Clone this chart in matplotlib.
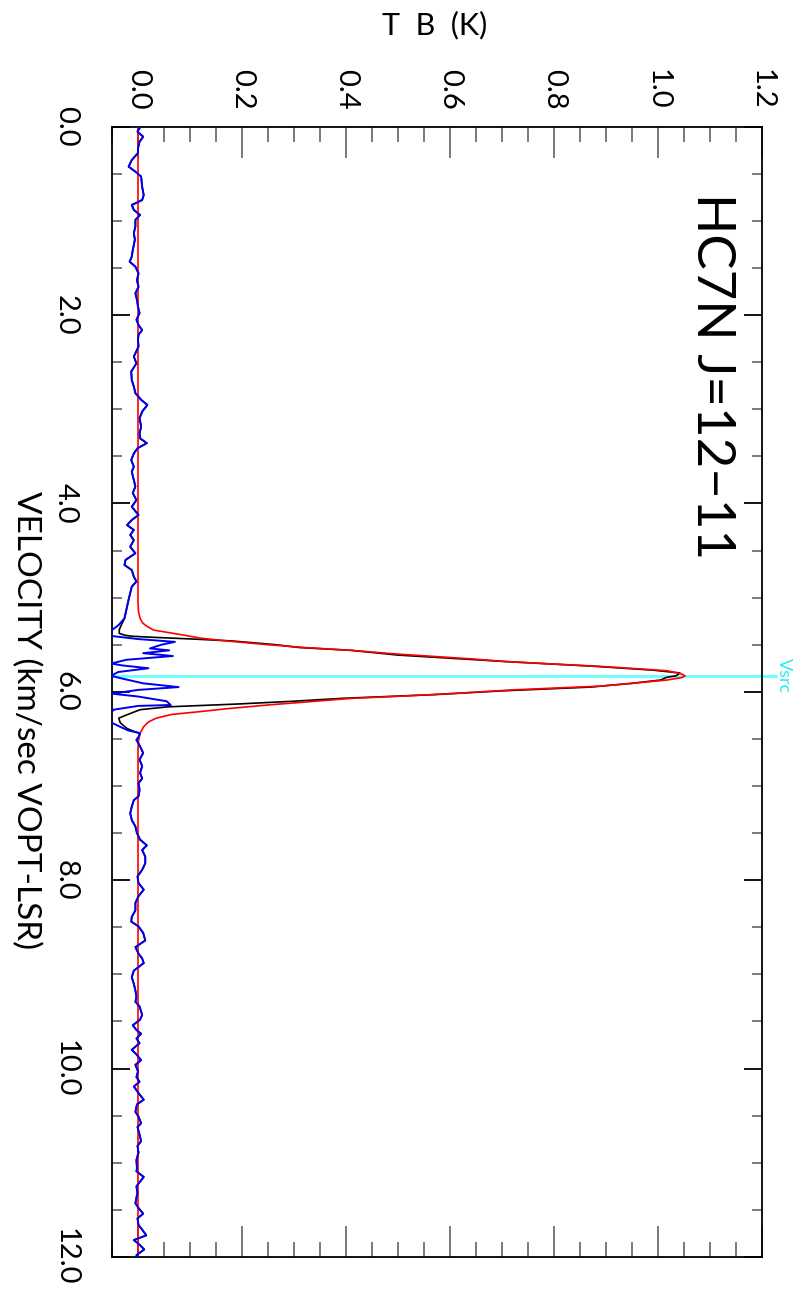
import matplotlib
matplotlib.use("Agg")
import matplotlib.pyplot as plt
from matplotlib.ticker import MultipleLocator, FormatStrFormatter

plt.rcParams['font.family'] = ['Lato', 'DejaVu Sans']
plt.rcParams['text.color'] = 'black'

v_src = 5.83

# baseline channels (km/s, K) left of the line
base_lo_v = [0.0, 0.018, 0.054, 0.107, 0.16, 0.23, 0.28, 0.355, 0.425, 0.478, 0.53, 0.64, 0.726,
             0.78, 0.832, 0.885, 0.938, 0.99, 1.06, 1.13, 1.20, 1.31, 1.38, 1.434, 1.487, 1.558,
             1.63, 1.70, 1.77, 1.84, 1.911, 1.98, 2.05, 2.106, 2.16, 2.21, 2.265, 2.335, 2.442,
             2.513, 2.60, 2.69, 2.76, 2.83, 2.90, 2.955, 3.026, 3.097, 3.185, 3.256, 3.31, 3.36,
             3.415, 3.47, 3.54, 3.61, 3.663, 3.75, 3.82, 3.89, 3.964, 4.035, 4.123, 4.176, 4.23,
             4.282, 4.335, 4.39, 4.46, 4.53, 4.60, 4.654, 4.707, 4.778, 4.83, 4.884, 4.95, 5.02,
             5.096, 5.167, 5.22]
base_lo_t = [0.001, 0.003, -0.001, 0.010, 0.003, 0.0, 0.0, -0.012, -0.018, -0.005, 0.006, 0.008,
             0.011, 0.008, -0.012, -0.008, 0.004, -0.005, -0.005, -0.008, -0.006, -0.010, -0.012,
             -0.016, -0.005, 0.001, -0.002, 0.001, -0.005, -0.002, 0.0, 0.003, -0.003, 0.001,
             0.008, 0.001, 0.0, 0.001, -0.008, -0.003, -0.013, -0.012, -0.008, -0.005, 0.006,
             0.018, 0.008, 0.003, 0.006, 0.003, 0.004, 0.017, -0.001, -0.008, -0.013, -0.008,
             -0.012, -0.008, -0.005, -0.010, -0.003, -0.012, 0.001, -0.012, -0.021, -0.008,
             -0.015, -0.008, -0.015, -0.005, -0.024, -0.026, -0.012, -0.008, -0.003, -0.012,
             -0.015, -0.018, -0.021, -0.024, -0.026]

# baseline channels right of the line
base_hi_v = [6.44, 6.48, 6.51, 6.58, 6.65, 6.72, 6.79, 6.86, 6.92, 6.97, 7.04, 7.11, 7.15, 7.22,
             7.29, 7.36, 7.43, 7.50, 7.57, 7.63, 7.68, 7.75, 7.82, 7.89, 7.96, 8.03, 8.10, 8.17,
             8.24, 8.32, 8.39, 8.44, 8.49, 8.56, 8.64, 8.71, 8.78, 8.83, 8.88, 8.96, 9.03, 9.10,
             9.17, 9.24, 9.29, 9.34, 9.43, 9.48, 9.54, 9.59, 9.63, 9.68, 9.73, 9.80, 9.85, 9.91,
             9.96, 10.03, 10.09, 10.14, 10.19, 10.26, 10.33, 10.38, 10.46, 10.51, 10.58, 10.62,
             10.70, 10.77, 10.82, 10.89, 10.97, 11.06, 11.09, 11.15, 11.20, 11.25, 11.32, 11.37,
             11.43, 11.48, 11.54, 11.59, 11.66, 11.71, 11.77, 11.82, 11.87, 11.92, 11.98, 12.0]
base_hi_t = [0.004, 0.001, -0.003, 0.004, 0.010, 0.003, 0.008, 0.004, 0.008, 0.001, 0.003, 0.001,
             -0.008, -0.012, -0.015, -0.012, -0.005, -0.002, 0.004, 0.017, 0.008, 0.014, 0.014,
             0.008, -0.001, 0.001, 0.011, 0.001, -0.005, -0.005, -0.012, -0.013, 0.001, 0.010,
             0.014, -0.005, 0.001, 0.008, 0.011, -0.008, -0.012, -0.008, -0.005, -0.003, -0.005,
             0.003, 0.008, 0.004, -0.010, -0.003, 0.006, -0.003, 0.003, -0.012, -0.003, 0.006,
             -0.005, 0.0, -0.003, 0.003, -0.008, 0.001, 0.011, -0.002, -0.005, 0.001, 0.006,
             -0.001, 0.003, 0.006, -0.001, 0.001, -0.003, -0.002, -0.003, 0.011, 0.004, -0.003,
             -0.001, -0.003, -0.005, 0.001, 0.010, -0.001, 0.001, 0.008, 0.016, -0.008, 0.003,
             0.012, -0.003, 0.001]

# observed spectrum across the line
line_v = [5.29, 5.34, 5.38, 5.40, 5.41, 5.42, 5.44, 5.46, 5.48, 5.50, 5.53, 5.56, 5.61, 5.65,
          5.68, 5.73, 5.77, 5.80, 5.83, 5.846, 5.875, 5.91, 5.95, 5.99, 6.03, 6.07, 6.10, 6.13,
          6.16, 6.19, 6.25, 6.28, 6.33, 6.39, 6.42]
line_t = [-0.032, -0.036, -0.036, -0.025, -0.012, 0.023, 0.106, 0.18, 0.222, 0.265, 0.31, 0.41,
          0.50, 0.62, 0.71, 0.88, 0.99, 1.042, 1.035, 1.017, 1.005, 0.95, 0.87, 0.70, 0.57, 0.39,
          0.30, 0.19, 0.056, 0.004, -0.024, -0.037, -0.034, -0.021, -0.008]

# residual (data - fit) inside the line window
resid_v = [5.29, 5.344, 5.38, 5.41, 5.44, 5.47, 5.50, 5.54, 5.56, 5.59, 5.62, 5.66, 5.70, 5.72,
           5.75, 5.79, 5.83, 5.86, 5.91, 5.95, 5.98, 6.02, 6.05, 6.10, 6.14, 6.15, 6.19, 6.25,
           6.30, 6.33, 6.37, 6.41]
resid_t = [-0.037, -0.050, -0.070, -0.047, 0.0, 0.071, 0.045, 0.023, 0.060, 0.010, 0.067, -0.022,
           -0.052, -0.030, 0.020, -0.038, -0.052, -0.030, 0.010, 0.078, 0.0, -0.050, 0.0, 0.055,
           0.063, 0.0, -0.047, -0.055, -0.060, -0.050, -0.035, -0.019]

# fitted profile
fit_v = [0.0, 5.05, 5.15, 5.22, 5.27, 5.30, 5.345, 5.40, 5.43, 5.46, 5.50, 5.53, 5.56, 5.60,
         5.65, 5.68, 5.73, 5.776, 5.81, 5.83, 5.85, 5.875, 5.91, 5.94, 5.98, 6.02, 6.045, 6.07,
         6.14, 6.18, 6.21, 6.24, 6.28, 6.32, 6.37, 6.44, 6.52, 6.60, 12.0]
fit_t = [0.0, 0.0, 0.001, 0.004, 0.009, 0.016, 0.03, 0.09, 0.12, 0.17, 0.25, 0.32, 0.41, 0.50,
         0.64, 0.71, 0.888, 1.017, 1.045, 1.052, 1.045, 1.017, 0.95, 0.888, 0.72, 0.60, 0.51,
         0.41, 0.25, 0.17, 0.12, 0.065, 0.035, 0.02, 0.011, 0.004, 0.001, 0.0, 0.0]

spec_v = base_lo_v + line_v + base_hi_v
spec_t = base_lo_t + line_t + base_hi_t
blue_v = base_lo_v + resid_v + base_hi_v
blue_t = base_lo_t + resid_t + base_hi_t

fig = plt.figure(figsize=(7.95, 13.0), dpi=100)
ax = fig.add_axes([112 / 795, 1 - 1257 / 1300, 650 / 795, (1257 - 126.6) / 1300])

ax.plot(spec_t, spec_v, color='black', lw=1.2, zorder=3)
ax.plot(fit_t, fit_v, color='red', lw=1.2, zorder=4)
ax.plot(blue_t, blue_v, color='#0000ee', lw=1.4, zorder=5)

# source velocity marker, runs past the frame
ax.plot([0, 1.022], [v_src, v_src], color='#66ffff', lw=2, transform=ax.get_yaxis_transform(),
        clip_on=False, zorder=2)
ax.text(1.034, v_src, 'Vsrc', transform=ax.get_yaxis_transform(), color='#22eeee',
        fontsize=13, rotation=-90, ha='center', va='center')

ax.set_xlim(-0.05, 1.2)
ax.set_ylim(12.0, 0.0)

ax.xaxis.set_major_locator(MultipleLocator(0.2))
ax.xaxis.set_minor_locator(MultipleLocator(0.05))
ax.yaxis.set_major_locator(MultipleLocator(2.0))
ax.yaxis.set_minor_locator(MultipleLocator(0.5))
ax.xaxis.set_major_formatter(FormatStrFormatter('%.1f'))
ax.yaxis.set_major_formatter(FormatStrFormatter('%.1f'))

ax.tick_params(axis='x', which='both', direction='in', top=True, bottom=True,
               labeltop=True, labelbottom=False, color='#707070', width=1.3)
ax.tick_params(axis='x', which='major', length=22, labelsize=21, pad=12, labelrotation=-90)
ax.tick_params(axis='x', which='minor', length=11)
ax.tick_params(axis='y', which='both', direction='in', left=True, right=True,
               labelleft=True, color='#707070', width=1.3)
ax.tick_params(axis='y', which='major', length=13, labelsize=21, pad=24, labelrotation=-90,
               color='black')
ax.tick_params(axis='y', which='minor', length=7)
for lab in ax.get_xticklabels():
    lab.set_va('bottom')
    lab.set_ha('center')
for lab in ax.get_yticklabels():
    lab.set_va('center')

for s in ax.spines.values():
    s.set_linewidth(1.3)

ax.text(0.923, 0.779, 'HC7N J=12\u221211', transform=ax.transAxes, fontsize=38,
        rotation=-90, ha='center', va='center')

fig.text(435 / 795, 1 - 25 / 1300, 'T  B  (K)', fontsize=22, ha='center', va='center')
fig.text(26 / 795, 1 - 720 / 1300, 'VELOCITY (km/sec VOPT-LSR)', fontsize=24, rotation=-90,
         ha='center', va='center')

fig.savefig('out.png', dpi=100, facecolor='white')
